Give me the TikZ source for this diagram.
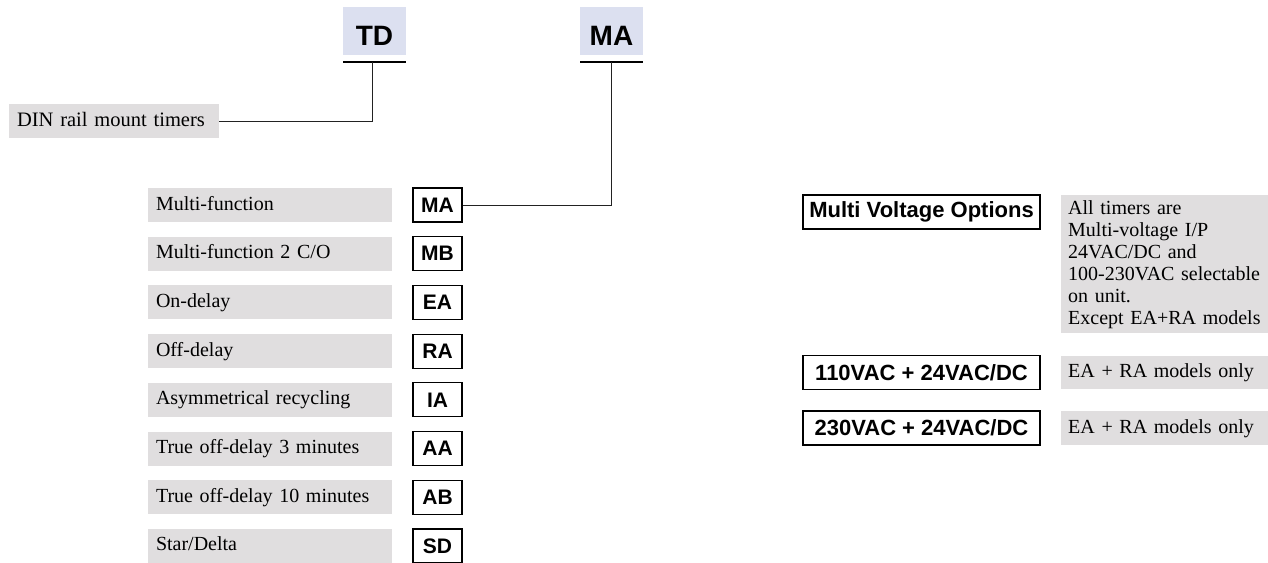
\documentclass[tikz,border=0pt]{standalone}
\usepackage{fontspec}
\setmainfont{Liberation Serif}
\setsansfont{Liberation Sans}
\definecolor{graybg}{HTML}{E0DEDF}
\definecolor{bluebg}{HTML}{DCE0F0}
\definecolor{linec}{HTML}{222222}
\begin{document}
\begin{tikzpicture}[x=1pt,y=-1pt,
  graybox/.style={fill=graybg, inner xsep=8pt, inner ysep=0pt, minimum height=34pt,
    text width=#1, align=left, text height=14pt, text depth=4pt,
    font=\fontsize{20}{22}\selectfont},
  graybox/.default=228pt,
  codebox/.style={draw=black, line width=1.2pt, minimum width=49pt, minimum height=34pt,
    inner sep=0pt, font=\sffamily\bfseries\fontsize{21}{24}\selectfont},
  voltbox/.style={draw=black, line width=1.2pt, minimum width=237pt, minimum height=34pt,
    inner sep=0pt, font=\sffamily\bfseries\fontsize{22}{24}\selectfont},
  topbox/.style={fill=bluebg, minimum width=63pt, minimum height=48pt, inner sep=0pt,
    text height=28pt, text depth=0pt,
    font=\sffamily\bfseries\fontsize{28}{32}\selectfont},
  conn/.style={draw=linec, line width=1pt},
  uline/.style={draw=black, line width=1.3pt}]
\path[use as bounding box] (0,0) rectangle (1268,562);
\clip (0,0) rectangle (1268,562);
\fill[white] (0,0) rectangle (1268,562);

% top code boxes
\node[topbox] (td) at (374.5,31) {TD};
\node[topbox] (ma) at (611.5,31) {MA};
\coordinate (tdl) at (343,62);
\coordinate (tdr) at (406,62);
\coordinate (tdu) at (372.5,62);
\coordinate (mal) at (580,62);
\coordinate (mar) at (643,62);
\coordinate (mau) at (611.5,62);
\draw[uline] (tdl) -- (tdr);
\draw[uline] (mal) -- (mar);

% DIN
\node[graybox=194pt, inner xsep=8pt, font=\fontsize{20.5}{22}\selectfont] (din) at (114,121) {DIN rail mount timers};

% rows
\foreach \i/\lab/\code in {0/Multi-function/MA, 1/Multi-function 2 C\slash O/MB, 2/On-delay/EA,
  3/Off-delay/RA, 4/Asymmetrical recycling/IA, 5/True off-delay 3 minutes/AA,
  6/True off-delay 10 minutes/AB, 7/Star\slash Delta/SD}{
  \node[graybox] (g\code) at (270,{205+48.7*\i}) {\lab};
  \node[codebox] (c\code) at (437.5,{205+48.7*\i}) {\code};
}

% connectors
\draw[conn] (din.east) -| (tdu);
\draw[conn] (cMA.east) -| (mau);

% voltage options
\node[voltbox] (mvo) at (921.5,212) {Multi Voltage Options};
\node[voltbox] (v110) at (921.5,372.5) {110VAC + 24VAC/DC};
\node[voltbox] (v230) at (921.5,428) {230VAC + 24VAC/DC};

\node[fill=graybg, anchor=north west, inner xsep=7pt, inner ysep=5pt, text width=200pt,
  align=left, font=\fontsize{20}{22}\selectfont] (note) at (1061,195)
  {All timers are\\Multi-voltage I/P\\24VAC/DC and\\100-230VAC selectable\\on unit.\\Except EA+RA models};
\node[graybox=200pt, inner xsep=7pt, anchor=west, minimum height=33pt] (n110) at (1061,372.5) {EA + RA models only};
\node[graybox=200pt, inner xsep=7pt, anchor=west, minimum height=34pt] (n230) at (1061,428) {EA + RA models only};
\end{tikzpicture}
\end{document}
